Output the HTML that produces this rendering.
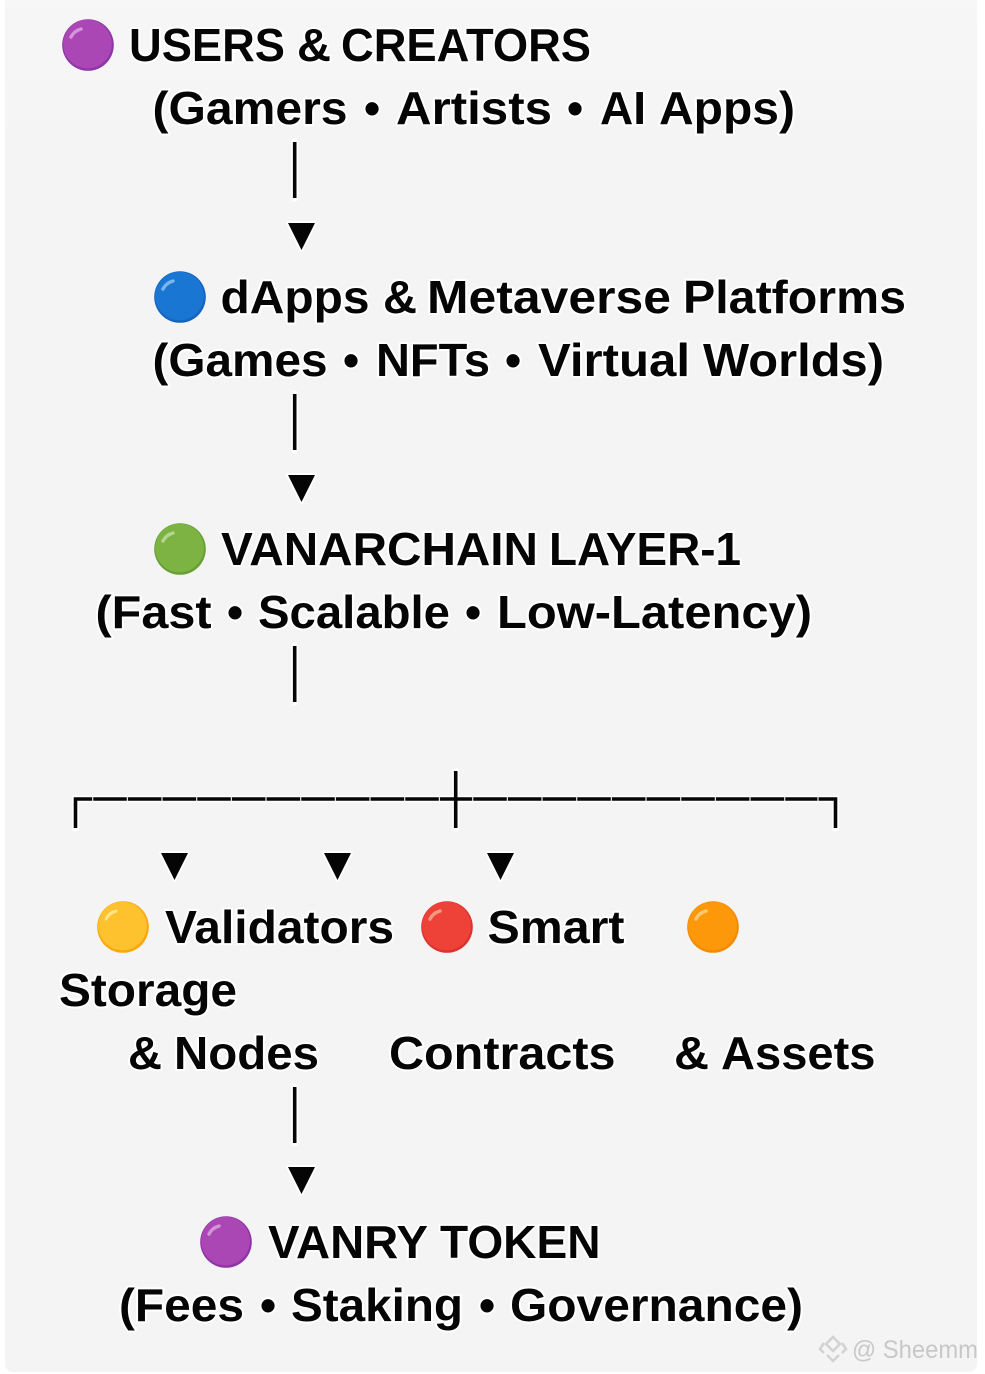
<!DOCTYPE html>
<html>
<head>
<meta charset="utf-8">
<style>
html,body{margin:0;padding:0;background:#fff;width:985px;height:1374px;overflow:hidden}
svg{display:block}
text{font-family:"Liberation Sans",sans-serif;font-weight:bold;font-size:46px;fill:#050505;stroke:#fff;stroke-width:4px;paint-order:stroke fill;stroke-linejoin:round}
.wm{font-weight:normal;font-size:25px;fill:#c8c8c8;stroke:none}
.ln{stroke:#050505;stroke-width:3.6;fill:none}
.halo{stroke:#fff;stroke-width:7;fill:none;stroke-linecap:round}
.tri{fill:#050505;stroke:#fff;stroke-width:4;paint-order:stroke fill;stroke-linejoin:round}
</style>
</head>
<body>
<svg width="985" height="1374" viewBox="0 0 985 1374" xmlns="http://www.w3.org/2000/svg">
<defs>
<linearGradient id="bg" x1="0" y1="0" x2="0" y2="1">
<stop offset="0" stop-color="#f7f7f7"/><stop offset=".12" stop-color="#f4f4f4"/><stop offset="1" stop-color="#f4f4f4"/>
</linearGradient>
</defs>
<rect x="5" y="-10" width="972" height="1382" rx="8" fill="url(#bg)"/>

<!-- connectors -->
<g>
<path class="halo" d="M294.7 142V198M294.7 394V450M294.7 646V702M294.7 1087V1143M75.5 828V799H835.5V828M455.7 771V828"/>
<path class="ln" d="M294.7 142V198M294.7 394V450M294.7 646V702M294.7 1087V1143M75.5 828V799H835.5V828M455.7 771V828"/>
<path stroke="#e4e4e4" stroke-width="1.2" fill="none" d="M92.7 797V801M127.4 797V801M162 797V801M196.7 797V801M231.4 797V801M266 797V801M300.7 797V801M335.4 797V801M370 797V801M404.7 797V801M439.4 797V801M472.7 797V801M507.4 797V801M542 797V801M576.7 797V801M611.4 797V801M646 797V801M680.7 797V801M715.4 797V801M750 797V801M784.7 797V801M818 797V801"/>
</g>
<g class="tri">
<polygon points="288,223 315,223 301.5,250"/>
<polygon points="288,475 315,475 301.5,502"/>
<polygon points="161,853 188,853 174.5,880"/>
<polygon points="324,853 351,853 337.5,880"/>
<polygon points="487,853 514,853 500.5,880"/>
<polygon points="288,1167 315,1167 301.5,1194"/>
</g>

<!-- emoji circles -->
<g>
<circle cx="88" cy="45" r="25.8" fill="#8e35a8"/><circle cx="87.5" cy="44" r="24.3" fill="#aa47b5"/>
<path d="M71 37Q74 31 81 29" stroke="#d593da" stroke-width="3.5" fill="none" stroke-linecap="round"/>
<circle cx="180" cy="297" r="25.8" fill="#1565c0"/><circle cx="179.5" cy="296" r="24.3" fill="#1976d2"/>
<path d="M163 289Q166 283 173 281" stroke="#7cb5ea" stroke-width="3.5" fill="none" stroke-linecap="round"/>
<circle cx="180" cy="549" r="25.8" fill="#689f38"/><circle cx="179.5" cy="548" r="24.3" fill="#7cb342"/>
<path d="M163 541Q166 535 173 533" stroke="#b5d68f" stroke-width="3.5" fill="none" stroke-linecap="round"/>
<circle cx="123" cy="927" r="25.8" fill="#fba60a"/><circle cx="122.5" cy="926" r="24.3" fill="#fdc22d"/>
<path d="M106 919Q109 913 116 911" stroke="#ffe48a" stroke-width="3" fill="none" stroke-linecap="round"/>
<circle cx="447" cy="927" r="25.8" fill="#d9352e"/><circle cx="446.5" cy="926" r="24.3" fill="#ee4238"/>
<path d="M430 919Q433 913 440 911" stroke="#f29a80" stroke-width="3.5" fill="none" stroke-linecap="round"/>
<circle cx="713" cy="927" r="25.8" fill="#f38b00"/><circle cx="712.5" cy="926" r="24.3" fill="#fd980a"/>
<path d="M696 919Q699 913 706 911" stroke="#fcc874" stroke-width="3.5" fill="none" stroke-linecap="round"/>
<circle cx="226" cy="1242" r="25.8" fill="#8e35a8"/><circle cx="225.5" cy="1241" r="24.3" fill="#aa47b5"/>
<path d="M209 1234Q212 1228 219 1226" stroke="#d593da" stroke-width="3.5" fill="none" stroke-linecap="round"/>
</g>

<!-- labels -->
<g>
<text x="129" y="61" textLength="156" lengthAdjust="spacingAndGlyphs">USERS</text>
<text x="297" y="61" textLength="34" lengthAdjust="spacingAndGlyphs">&amp;</text>
<text x="341" y="61" textLength="250" lengthAdjust="spacingAndGlyphs">CREATORS</text>

<text x="152.5" y="124" textLength="195" lengthAdjust="spacingAndGlyphs">(Gamers</text>
<text x="364" y="124">•</text>
<text x="396" y="124" textLength="156" lengthAdjust="spacingAndGlyphs">Artists</text>
<text x="567" y="124">•</text>
<text x="600" y="124" textLength="46" lengthAdjust="spacingAndGlyphs">AI</text>
<text x="659" y="124" textLength="136" lengthAdjust="spacingAndGlyphs">Apps)</text>

<text x="220.5" y="313" textLength="149" lengthAdjust="spacingAndGlyphs">dApps</text>
<text x="383" y="313" textLength="34" lengthAdjust="spacingAndGlyphs">&amp;</text>
<text x="427" y="313" textLength="244" lengthAdjust="spacingAndGlyphs">Metaverse</text>
<text x="683" y="313" textLength="223" lengthAdjust="spacingAndGlyphs">Platforms</text>

<text x="152.5" y="376" textLength="175" lengthAdjust="spacingAndGlyphs">(Games</text>
<text x="343" y="376">•</text>
<text x="376" y="376" textLength="114" lengthAdjust="spacingAndGlyphs">NFTs</text>
<text x="505" y="376">•</text>
<text x="538" y="376" textLength="152" lengthAdjust="spacingAndGlyphs">Virtual</text>
<text x="703" y="376" textLength="181" lengthAdjust="spacingAndGlyphs">Worlds)</text>

<text x="221" y="565" textLength="317" lengthAdjust="spacingAndGlyphs">VANARCHAIN</text>
<text x="549" y="565" textLength="192" lengthAdjust="spacingAndGlyphs">LAYER-1</text>

<text x="95.5" y="628" textLength="116" lengthAdjust="spacingAndGlyphs">(Fast</text>
<text x="227" y="628">•</text>
<text x="258" y="628" textLength="192" lengthAdjust="spacingAndGlyphs">Scalable</text>
<text x="465" y="628">•</text>
<text x="497" y="628" textLength="315" lengthAdjust="spacingAndGlyphs">Low-Latency)</text>

<text x="165" y="943" textLength="229" lengthAdjust="spacingAndGlyphs">Validators</text>
<text x="487.5" y="943" textLength="137" lengthAdjust="spacingAndGlyphs">Smart</text>
<text x="59" y="1006" textLength="178" lengthAdjust="spacingAndGlyphs">Storage</text>

<text x="128" y="1069" textLength="34" lengthAdjust="spacingAndGlyphs">&amp;</text>
<text x="174" y="1069" textLength="145" lengthAdjust="spacingAndGlyphs">Nodes</text>
<text x="389" y="1069" textLength="226.5" lengthAdjust="spacingAndGlyphs">Contracts</text>
<text x="674" y="1069" textLength="35" lengthAdjust="spacingAndGlyphs">&amp;</text>
<text x="721" y="1069" textLength="154.5" lengthAdjust="spacingAndGlyphs">Assets</text>

<text x="268" y="1258" textLength="160" lengthAdjust="spacingAndGlyphs">VANRY</text>
<text x="440" y="1258" textLength="160.5" lengthAdjust="spacingAndGlyphs">TOKEN</text>

<text x="119" y="1321" textLength="125" lengthAdjust="spacingAndGlyphs">(Fees</text>
<text x="260" y="1321">•</text>
<text x="291" y="1321" textLength="172" lengthAdjust="spacingAndGlyphs">Staking</text>
<text x="479" y="1321">•</text>
<text x="510" y="1321" textLength="293" lengthAdjust="spacingAndGlyphs">Governance)</text>
</g>

<!-- watermark -->
<g fill="none" stroke="#d2d2d2" stroke-width="2.5">
<path d="M833 1337L840 1344L833 1351L826 1344Z"/>
<path d="M824 1343L820 1349L824 1353M842 1343L846 1349L842 1353M827 1355L833 1361L839 1355"/>
</g>
<text class="wm" x="852" y="1358" textLength="126" lengthAdjust="spacingAndGlyphs">@ Sheemm</text>
</svg>
</body>
</html>
